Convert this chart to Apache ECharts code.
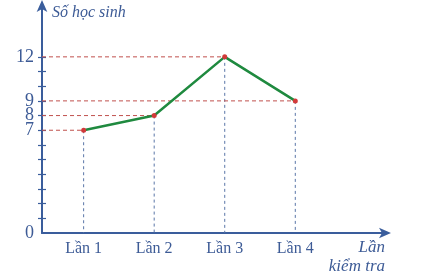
<!DOCTYPE html>
<html><head><meta charset="utf-8">
<script src="https://cdn.jsdelivr.net/npm/echarts@6/dist/echarts.min.js"></script>
<style>html,body{margin:0;padding:0;background:#fff}#c{width:430px;height:279px}</style>
</head><body><div id="c"></div>
<script>
const categories = ['Lần 1', 'Lần 2', 'Lần 3', 'Lần 4'];
const values = [7, 8, 12, 9];
const yLabelValues = [0, 7, 8, 9, 12];
const yTickValues = [1, 2, 3, 4, 5, 6, 7, 8, 9, 10, 11, 12];
const yName = 'Số học sinh';
const xName = 'Lần\nkiểm tra';

const X_MIN = 0.41, X_MAX = 5.3, Y_MIN = 0, Y_MAX = 15.6;
const blue = '#3a5d9c', textBlue = '#3d5b96';
const font = 'Liberation Serif';

const pts = categories.map((c, i) => [i + 1, values[i]]);

const guideSeries = [];
pts.forEach(p => {
  guideSeries.push({type: 'line', data: [[X_MIN, p[1]], [p[0], p[1]]], symbol: 'none', silent: true, z: 3,
    lineStyle: {color: '#c0504d', type: [4, 3], width: 1}});
  guideSeries.push({type: 'line', data: [[p[0], p[1]], [p[0], 0]], symbol: 'none', silent: true, z: 3,
    lineStyle: {color: '#5a76a8', type: [3, 3], width: 1}});
});

const chart = echarts.init(document.getElementById('c'), null, {renderer: 'canvas'});
chart.setOption({
  animation: false,
  grid: {left: 42, right: 43, top: 4, bottom: 46},
  xAxis: {
    type: 'value', min: X_MIN, max: X_MAX,
    splitLine: {show: false},
    axisLine: {lineStyle: {color: blue, width: 2}, symbol: ['none', 'arrow'], symbolSize: [8, 12], symbolOffset: [0, 4]},
    axisTick: {show: false},
    axisLabel: {customValues: pts.map(p => p[0]), formatter: v => categories[Math.round(v) - 1] || '',
      color: textBlue, fontFamily: font, fontSize: 16, margin: 8},
    name: xName, nameLocation: 'end', nameGap: -2,
    nameTextStyle: {color: textBlue, fontFamily: font, fontStyle: 'italic', fontSize: 17,
      align: 'right', verticalAlign: 'top', padding: [5, 0, 0, 0], lineHeight: 19}
  },
  yAxis: [{
    type: 'value', min: Y_MIN, max: Y_MAX,
    splitLine: {show: false},
    axisLine: {lineStyle: {color: blue, width: 2}, symbol: ['none', 'arrow'], symbolSize: [8, 12], symbolOffset: [0, 4]},
    axisTick: {customValues: yTickValues, length: 4, lineStyle: {color: blue, width: 1.2}},
    axisLabel: {customValues: yLabelValues, color: textBlue, fontFamily: font, fontSize: 18, margin: 8},
    name: yName, nameLocation: 'end', nameGap: -9,
    nameTextStyle: {color: textBlue, fontFamily: font, fontStyle: 'italic', fontSize: 16,
      align: 'left', verticalAlign: 'middle', padding: [0, 0, 0, 10]}
  }, {
    type: 'value', min: Y_MIN, max: Y_MAX, position: 'left',
    splitLine: {show: false},
    axisLine: {show: false},
    axisTick: {customValues: yTickValues, inside: true, length: 4, lineStyle: {color: blue, width: 1.2}},
    axisLabel: {show: false}
  }],
  series: guideSeries.concat([{
    type: 'line', data: pts,
    lineStyle: {color: '#1f8a3f', width: 2.5},
    symbol: 'circle', symbolSize: 5,
    itemStyle: {color: '#d23a3a'},
    z: 5
  }])
});
</script></body></html>
